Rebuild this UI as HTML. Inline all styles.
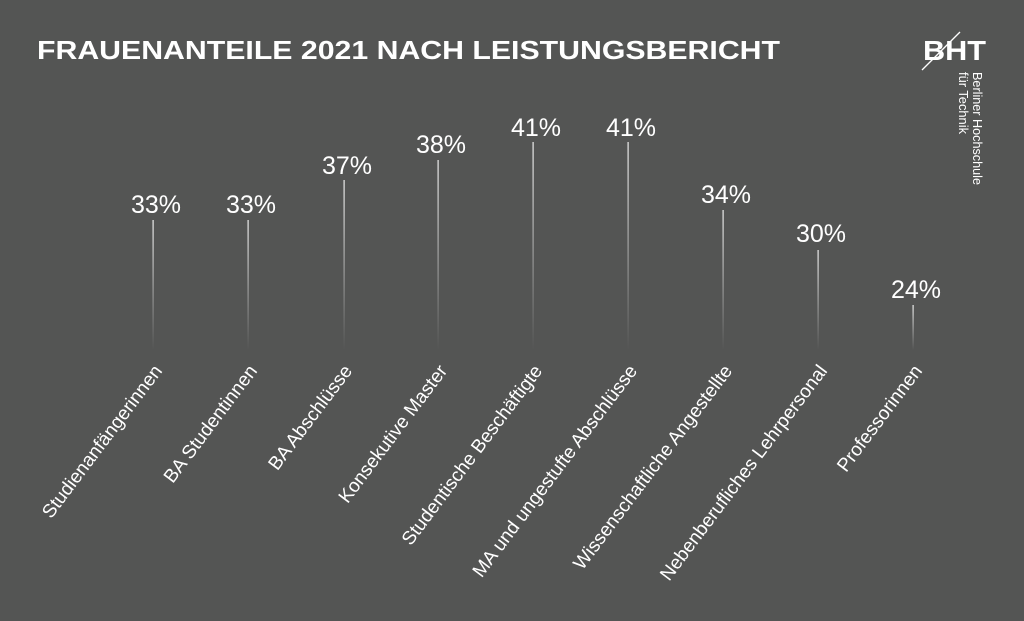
<!DOCTYPE html>
<html><head><meta charset="utf-8"><style>
html,body{margin:0;padding:0;background:#545554;}
svg{display:block}
text{font-family:"Liberation Sans",sans-serif;fill:#fff}
</style></head><body>
<svg width="1024" height="621" viewBox="0 0 1024 621">
<defs><linearGradient id="g" x1="0" y1="0" x2="0" y2="1">
<stop offset="0" stop-color="#fff" stop-opacity="0.9"/><stop offset="1" stop-color="#fff" stop-opacity="0"/></linearGradient></defs>
<rect width="1024" height="621" fill="#545554"/>
<text x="37" y="59" font-size="26" font-weight="bold" textLength="743" lengthAdjust="spacingAndGlyphs">FRAUENANTEILE 2021 NACH LEISTUNGSBERICHT</text>
<text x="923" y="60" font-size="28" font-weight="bold" textLength="63" lengthAdjust="spacingAndGlyphs">BHT</text>
<line x1="922" y1="70" x2="960" y2="32" stroke="#fff" stroke-width="1.3"/>
<text transform="translate(973,72) rotate(90)" font-size="12.5" textLength="113" lengthAdjust="spacingAndGlyphs">Berliner Hochschule</text>
<text transform="translate(959,72) rotate(90)" font-size="12.5" textLength="62" lengthAdjust="spacingAndGlyphs">für Technik</text>
<g font-size="25" text-anchor="middle" fill="#f2f2f2">
<rect x="152.5" y="220" width="1.2" height="130" fill="url(#g)"/><text x="156" y="213">33%</text>
<rect x="247.5" y="220" width="1.2" height="130" fill="url(#g)"/><text x="251" y="213">33%</text>
<rect x="343.5" y="180" width="1.2" height="170" fill="url(#g)"/><text x="347" y="174">37%</text>
<rect x="437.5" y="160" width="1.2" height="190" fill="url(#g)"/><text x="441" y="153">38%</text>
<rect x="532.5" y="142" width="1.2" height="208" fill="url(#g)"/><text x="536" y="136">41%</text>
<rect x="627.5" y="142" width="1.2" height="208" fill="url(#g)"/><text x="631" y="136">41%</text>
<rect x="722.5" y="210" width="1.2" height="140" fill="url(#g)"/><text x="726" y="203">34%</text>
<rect x="817.5" y="250" width="1.2" height="100" fill="url(#g)"/><text x="821" y="242">30%</text>
<rect x="912.5" y="305" width="1.2" height="45" fill="url(#g)"/><text x="916" y="298">24%</text>
</g>
<g font-size="19" text-anchor="end">
<text transform="translate(163,371) rotate(-53)">Studienanfängerinnen</text>
<text transform="translate(258,371) rotate(-53)">BA Studentinnen</text>
<text transform="translate(353,371) rotate(-53)">BA Abschlüsse</text>
<text transform="translate(448,371) rotate(-53)">Konsekutive Master</text>
<text transform="translate(543,371) rotate(-53)">Studentische Beschäftigte</text>
<text transform="translate(638,371) rotate(-53)">MA und ungestufte Abschlüsse</text>
<text transform="translate(733,371) rotate(-53)">Wissenschaftliche Angestellte</text>
<text transform="translate(828,371) rotate(-53)">Nebenberufliches  Lehrpersonal</text>
<text transform="translate(923,371) rotate(-53)">Professorinnen</text>
</g>
</svg>
</body></html>
